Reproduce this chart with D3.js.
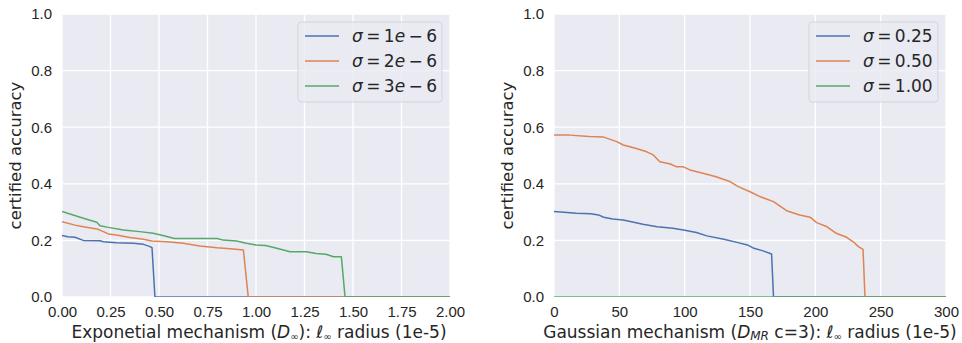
<!DOCTYPE html>
<html>
<head>
<meta charset="utf-8">
<script src="https://cdn.jsdelivr.net/npm/d3@7"></script>
<style>
  html, body { margin: 0; padding: 0; background: #fff; }
  svg { display: block; font-family: "DejaVu Sans", sans-serif; }
  .tick text { fill: #262626; font-size: 15px; }
  .axis-label { fill: #262626; font-size: 17px; }
  .ylabel { font-size: 16.5px; }
  .legend text { fill: #262626; font-size: 17px; }
</style>
</head>
<body>
<svg id="svg" width="962" height="343"></svg>
<script>
// Data: [radius, certified accuracy]
const expBlue = [[0, 0.217], [0.03, 0.213], [0.067, 0.211], [0.11, 0.2], [0.196, 0.199], [0.213, 0.195],
  [0.28, 0.192], [0.368, 0.19], [0.42, 0.186], [0.454, 0.178], [0.464, 0.174], [0.479, 0], [2.0, 0]];
const expOrange = [[0, 0.266], [0.067, 0.254], [0.11, 0.248], [0.187, 0.239], [0.213, 0.231], [0.239, 0.223],
  [0.28, 0.219], [0.35, 0.21], [0.42, 0.204], [0.462, 0.198], [0.54, 0.195], [0.625, 0.19], [0.71, 0.18],
  [0.8, 0.174], [0.883, 0.17], [0.935, 0.166], [0.96, 0], [2.0, 0]];
const expGreen = [[0, 0.302], [0.11, 0.278], [0.179, 0.264], [0.196, 0.252], [0.239, 0.246], [0.316, 0.237],
  [0.4, 0.231], [0.47, 0.225], [0.52, 0.217], [0.58, 0.207], [0.8, 0.207], [0.83, 0.201], [0.9, 0.198],
  [0.95, 0.19], [1.0, 0.184], [1.05, 0.182], [1.107, 0.172], [1.175, 0.16], [1.26, 0.16], [1.31, 0.154],
  [1.36, 0.151], [1.4, 0.142], [1.44, 0.142], [1.459, 0], [2.0, 0]];

const gaussBlue = [[0, 0.302], [10, 0.299], [17, 0.296], [28, 0.294], [34, 0.29], [38, 0.282], [45, 0.276],
  [53, 0.272], [61, 0.264], [68, 0.257], [79, 0.248], [91, 0.243], [99, 0.237], [109, 0.228], [117, 0.216],
  [130, 0.204], [140, 0.193], [148, 0.184], [153, 0.172], [160, 0.163], [166.5, 0.152], [168, 0], [300, 0]];
const gaussOrange = [[0, 0.572], [12, 0.572], [27, 0.567], [38, 0.565], [48, 0.549], [53, 0.537], [63, 0.525],
  [71, 0.513], [76, 0.502], [81, 0.478], [89, 0.47], [94, 0.46], [99, 0.46], [104, 0.449], [114, 0.437],
  [124, 0.425], [135, 0.407], [141, 0.39], [150, 0.372], [158, 0.354], [168, 0.337], [178, 0.305],
  [188, 0.29], [196, 0.282], [201, 0.263], [209, 0.248], [216, 0.225], [224, 0.211], [229, 0.195],
  [233, 0.178], [236.5, 0.168], [238, 0], [300, 0]];
const gaussGreen = [[0, 0], [300, 0]];

const expLabels = ['1', '2', '3'];
const gaussLabels = ['0.25', '0.50', '1.00'];
const expTicks = [0, 0.25, 0.5, 0.75, 1.0, 1.25, 1.5, 1.75, 2.0];
const gaussTicks = [0, 50, 100, 150, 200, 250, 300];
const yTicks = [0, 0.2, 0.4, 0.6, 0.8, 1.0];

const colors = ['#4c72b0', '#dd8452', '#55a868'];
const svg = d3.select('#svg');
const plotTop = 14;
const plotBottom = 297;

function panel(opts) {
  const { id, left, right, xMax, xTicks, xFmt, series, legend } = opts;
  const x = d3.scaleLinear().domain([0, xMax]).range([left, right]);
  const y = d3.scaleLinear().domain([0, 1]).range([plotBottom, plotTop]);
  const g = svg.append('g');

  g.append('rect')
    .attr('x', left).attr('y', plotTop)
    .attr('width', right - left).attr('height', plotBottom - plotTop)
    .attr('fill', '#eaeaf2');

  svg.append('defs').append('clipPath').attr('id', id)
    .append('rect')
    .attr('x', left).attr('y', plotTop)
    .attr('width', right - left).attr('height', plotBottom - plotTop);

  // grid
  g.append('g').selectAll('line.v').data(xTicks).enter().append('line')
    .attr('x1', (d) => x(d)).attr('x2', (d) => x(d))
    .attr('y1', plotTop).attr('y2', plotBottom)
    .attr('stroke', '#fff').attr('stroke-width', 1.3);
  g.append('g').selectAll('line.h').data(yTicks).enter().append('line')
    .attr('x1', left).attr('x2', right)
    .attr('y1', (d) => y(d)).attr('y2', (d) => y(d))
    .attr('stroke', '#fff').attr('stroke-width', 1.3);

  // axes
  const xAxis = g.append('g')
    .attr('transform', `translate(0,${plotBottom})`)
    .call(d3.axisBottom(x).tickValues(xTicks).tickFormat(xFmt).tickSize(0).tickPadding(9));
  xAxis.select('.domain').remove();
  const yAxis = g.append('g')
    .attr('transform', `translate(${left},0)`)
    .call(d3.axisLeft(y).tickValues(yTicks).tickFormat(d3.format('.1f')).tickSize(0).tickPadding(10));
  yAxis.select('.domain').remove();
  g.selectAll('.tick text').attr('font-family', null).attr('font-size', null);
  g.selectAll('.tick line').remove();

  // lines
  const line = d3.line().x((d) => x(d[0])).y((d) => y(d[1]));
  g.append('g').attr('clip-path', `url(#${id})`)
    .selectAll('path').data(series).enter().append('path')
    .attr('d', line)
    .attr('fill', 'none')
    .attr('stroke', (d, i) => colors[i])
    .attr('stroke-width', 1.5)
    .attr('stroke-linejoin', 'round');

  // legend
  const lg = g.append('g').attr('class', 'legend');
  const lx = right - 8 - legend.w;
  lg.append('rect')
    .attr('x', lx).attr('y', 22)
    .attr('width', legend.w).attr('height', 80)
    .attr('rx', 3)
    .attr('fill', 'rgba(234,234,242,0.8)')
    .attr('stroke', '#d4d4da').attr('stroke-width', 1);
  legend.labels.forEach((lab, i) => {
    const yy = 36 + i * 25;
    lg.append('line')
      .attr('x1', lx + 7).attr('x2', lx + 41)
      .attr('y1', yy).attr('y2', yy)
      .attr('stroke', colors[i]).attr('stroke-width', 1.5);
    const t = lg.append('text').attr('x', lx + 54).attr('y', yy + 6);
    t.append('tspan').attr('font-style', 'italic').text('σ');
    t.append('tspan').text('\u2009=\u2009');
    if (legend.exp) {
      t.append('tspan').text(lab);
      t.append('tspan').attr('font-style', 'italic').text('e');
      t.append('tspan').text('\u2009−\u20096');
    } else {
      t.append('tspan').text(lab);
    }
  });

  // y label
  g.append('text').attr('class', 'axis-label ylabel')
    .attr('transform', `translate(${left - 41},${(plotTop + plotBottom) / 2}) rotate(-90)`)
    .attr('text-anchor', 'middle')
    .text('certified accuracy');

  return { g, x };
}

const p1 = panel({
  id: 'clipL', left: 62, right: 450, xMax: 2, xTicks: expTicks, xFmt: d3.format('.2f'),
  series: [expBlue, expOrange, expGreen], legend: { w: 144, labels: expLabels, exp: true },
});
const p2 = panel({
  id: 'clipR', left: 554, right: 946, xMax: 300, xTicks: gaussTicks, xFmt: d3.format('d'),
  series: [gaussBlue, gaussOrange, gaussGreen], legend: { w: 129, labels: gaussLabels, exp: false },
});

// x labels
const t1 = p1.g.append('text').attr('class', 'axis-label')
  .attr('x', 259).attr('y', 338).attr('text-anchor', 'middle');
t1.append('tspan').text('Exponetial mechanism (');
t1.append('tspan').attr('font-style', 'italic').text('D');
t1.append('tspan').attr('font-size', '10px').attr('dy', 2).text('∞');
t1.append('tspan').attr('dy', -2).text('): ');
t1.append('tspan').attr('font-style', 'italic').text('ℓ');
t1.append('tspan').attr('font-size', '10px').attr('dy', 2).text('∞');
t1.append('tspan').attr('dy', -2).text(' radius (1e-5)');

const t2 = p2.g.append('text').attr('class', 'axis-label')
  .attr('x', 750).attr('y', 338).attr('text-anchor', 'middle');
t2.append('tspan').text('Gaussian mechanism (');
t2.append('tspan').attr('font-style', 'italic').text('D');
t2.append('tspan').attr('font-style', 'italic').attr('font-size', '12px').attr('dy', 2).text('MR');
t2.append('tspan').attr('dy', -2).text(' c=3): ');
t2.append('tspan').attr('font-style', 'italic').text('ℓ');
t2.append('tspan').attr('font-size', '10px').attr('dy', 2).text('∞');
t2.append('tspan').attr('dy', -2).text(' radius (1e-5)');
</script>
</body>
</html>
